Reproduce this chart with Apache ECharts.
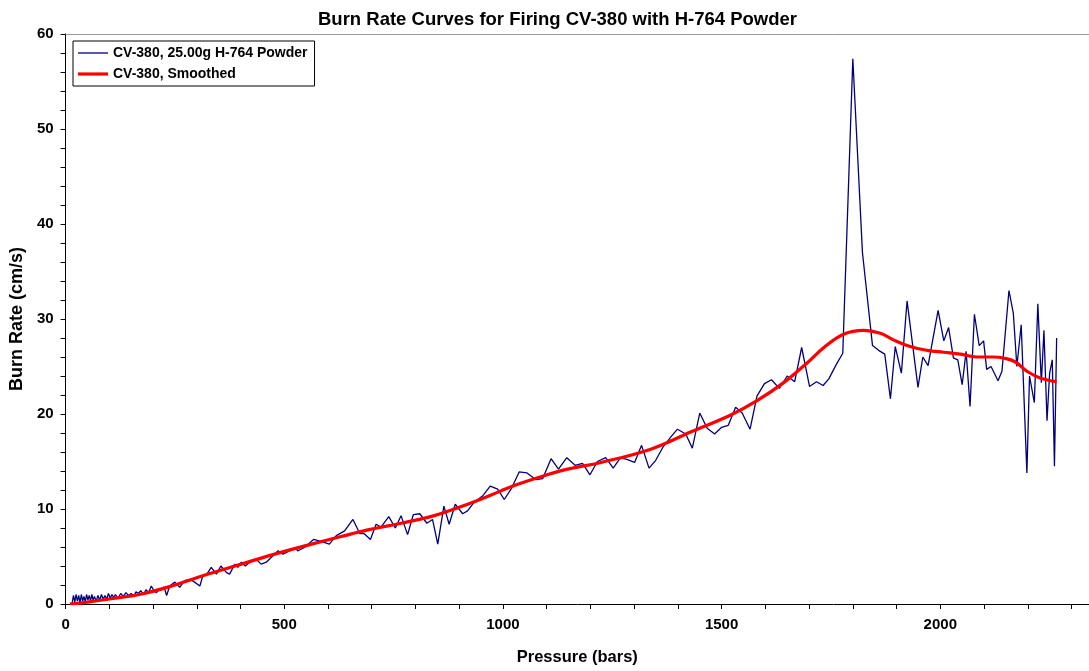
<!DOCTYPE html>
<html>
<head>
<meta charset="utf-8">
<script src="https://cdn.jsdelivr.net/npm/echarts@6/dist/echarts.min.js"></script>
<style>
  html, body { margin: 0; padding: 0; background: #fff; }
  #chart { width: 1089px; height: 671px; }
</style>
</head>
<body>
<div id="chart"></div>
<script>
// raw burn rate
var rawPressure = [15,18,21,24,27,30,33,36,39,42,45,48,51,54,57,60,63,66,70,74,78,82,86,90,94,98,102,106,110,114,120,126,132,138,144,150,156,161,166,172,178,184,190,196,202,208,214,219,225,231,238,250,261,272,284,295,307,314,323,333,345,355,368,375,387,394,402,411,425,436,447,459,470,486,497,512,524,531,546,567,584,603,619,638,657,673,683,697,710,721,739,754,767,782,795,810,826,839,851,865,877,891,908,919,934,954,971,988,1003,1020,1037,1055,1075,1091,1110,1127,1146,1165,1182,1199,1216,1235,1252,1269,1285,1301,1317,1334,1349,1367,1384,1399,1418,1433,1450,1467,1484,1500,1515,1532,1547,1565,1581,1598,1614,1632,1650,1667,1683,1701,1717,1732,1745,1762,1777,1800,1822,1845,1859,1873,1886,1897,1911,1924,1949,1960,1972,1995,2008,2019,2030,2040,2050,2059,2068,2078,2089,2099,2106,2116,2132,2141,2157,2167,2175,2185,2198,2204,2215,2223,2231,2237,2244,2250,2256,2261,2266];
var rawRate = [0.1,0.9,0.2,1.0,0.3,0.9,0.1,1.0,0.3,0.8,0.2,1.0,0.4,0.9,0.3,1.0,0.4,0.8,0.3,0.9,0.4,1.0,0.5,0.9,0.5,1.1,0.6,1.0,0.7,1.0,0.6,1.1,0.8,1.2,0.9,1.1,0.8,1.3,1.1,1.4,1.0,1.5,1.2,1.9,1.4,1.2,1.6,1.5,1.8,0.9,1.9,2.3,1.75,2.45,2.6,2.3,1.9,3.0,3.15,3.85,3.15,4.0,3.3,3.15,4.2,3.85,4.4,4.0,4.55,4.7,4.2,4.4,4.9,5.6,5.25,5.6,5.95,5.6,5.95,6.8,6.6,6.3,7.2,7.7,8.9,7.4,7.4,6.8,8.4,8.1,9.2,8.0,9.3,7.3,9.4,9.5,8.5,8.9,6.3,10.3,8.4,10.5,9.5,9.8,10.7,11.4,12.4,12.1,11.0,12.2,13.9,13.8,13.1,13.2,15.3,14.2,15.4,14.6,14.8,13.6,15.0,15.4,14.3,15.4,15.2,14.9,16.7,14.3,15.1,16.6,17.6,18.4,17.9,16.4,20.1,18.5,17.9,18.6,18.8,20.7,20.1,18.4,21.9,23.2,23.6,22.7,24.0,23.4,27.0,22.9,23.4,23.0,23.7,25.2,26.4,57.4,37.0,27.2,26.7,26.3,21.6,27.1,24.3,31.9,22.8,26.0,25.1,30.9,27.7,29.1,25.9,25.7,23.1,26.6,20.8,30.5,27.2,27.7,24.7,25.0,23.5,24.5,33.0,30.6,25.0,29.4,13.8,24.0,21.2,31.6,23.3,28.8,19.3,24.3,25.7,14.5,28.0];

// smoothed curve
var smoothPressure = [10,50,97,174,250,326,402,478,554,630,691,767,843,889,942,995,1034,1094,1148,1224,1338,1429,1521,1581,1642,1696,1734,1779,1825,1863,1893,1931,1970,2008,2046,2084,2122,2144,2171,2198,2228,2266];
var smoothRate = [0,0.2,0.5,1.05,2.0,3.15,4.2,5.25,6.2,7.1,7.8,8.5,9.3,10.0,10.9,11.9,12.6,13.5,14.2,14.9,16.3,18.1,19.9,21.4,23.3,25.4,27.0,28.4,28.8,28.5,27.8,27.1,26.7,26.5,26.3,26.0,26.0,25.9,25.5,24.5,23.8,23.4];

var rawName = 'CV-380, 25.00g H-764 Powder';
var smoothName = 'CV-380, Smoothed';

function zip(a, b) {
  var out = [];
  for (var i = 0; i < a.length; i++) out.push([a[i], b[i]]);
  return out;
}

var font = '"Liberation Sans", Arial, sans-serif';
var myChart = echarts.init(document.getElementById('chart'), null, {renderer: 'canvas'});

myChart.setOption({
  animation: false,
  backgroundColor: '#fff',
  title: {
    text: 'Burn Rate Curves for Firing CV-380 with H-764 Powder',
    left: 313, top: 5,
    textStyle: {fontFamily: font, fontWeight: 'bold', fontSize: 18.5, color: '#000'}
  },
  legend: {
    orient: 'vertical',
    left: 73, top: 41,
    padding: [5, 7, 5, 5],
    itemWidth: 30, itemHeight: 14, itemGap: 7,
    symbolKeepAspect: true,
    borderColor: '#000', borderWidth: 1, borderRadius: 0,
    backgroundColor: '#fff',
    // plain line icons, thin for raw data and thick for the smoothed curve
    data: [
      {name: rawName, icon: 'path://M0,0L30,0L30,1.3L0,1.3Z'},
      {name: smoothName, icon: 'path://M0,0L30,0L30,3.2L0,3.2Z'}
    ],
    textStyle: {fontFamily: font, fontWeight: 'bold', fontSize: 14, color: '#000'}
  },
  grid: {left: 64, right: 0, top: 34, bottom: 66, containLabel: false},
  xAxis: [{
    type: 'value', min: 0, max: 2340, interval: 100,
    name: 'Pressure (bars)', nameLocation: 'middle', nameGap: 45,
    nameTextStyle: {fontFamily: font, fontWeight: 'bold', fontSize: 16.5, color: '#000'},
    axisLine: {lineStyle: {color: '#000', width: 1}},
    axisTick: {length: 5, lineStyle: {color: '#000'}},
    splitLine: {show: false},
    axisLabel: {
      fontFamily: font, fontWeight: 'bold', fontSize: 15, color: '#000', margin: 13,
      showMaxLabel: false,
      formatter: function (v) { return v % 500 === 0 ? String(v) : ''; }
    }
  }, {
    type: 'value', position: 'top', min: 0, max: 2340,
    axisLine: {show: true, lineStyle: {color: '#999'}},
    axisTick: {show: false}, axisLabel: {show: false}, splitLine: {show: false}
  }],
  yAxis: {
    type: 'value', min: 0, max: 60, interval: 2,
    name: 'Burn Rate (cm/s)', nameLocation: 'middle', nameGap: 38, nameRotate: 90,
    nameTextStyle: {fontFamily: font, fontWeight: 'bold', fontSize: 18, color: '#000'},
    axisLine: {show: true, lineStyle: {color: '#000', width: 1}},
    axisTick: {length: 5, lineStyle: {color: '#000'}},
    splitLine: {show: false},
    axisLabel: {
      fontFamily: font, fontWeight: 'bold', fontSize: 15, color: '#000', margin: 12,
      formatter: function (v) { return v % 10 === 0 ? String(v) : ''; }
    }
  },
  series: [{
    name: rawName,
    type: 'line',
    data: zip(rawPressure, rawRate),
    showSymbol: false, symbol: 'none',
    lineStyle: {color: '#000080', width: 1.3},
    itemStyle: {color: '#000080'},
    z: 2
  }, {
    name: smoothName,
    type: 'line',
    data: zip(smoothPressure, smoothRate),
    smooth: 0.4,
    showSymbol: false, symbol: 'none',
    lineStyle: {color: '#ff0000', width: 3.2},
    itemStyle: {color: '#ff0000'},
    z: 3
  }]
});
</script>
</body>
</html>
